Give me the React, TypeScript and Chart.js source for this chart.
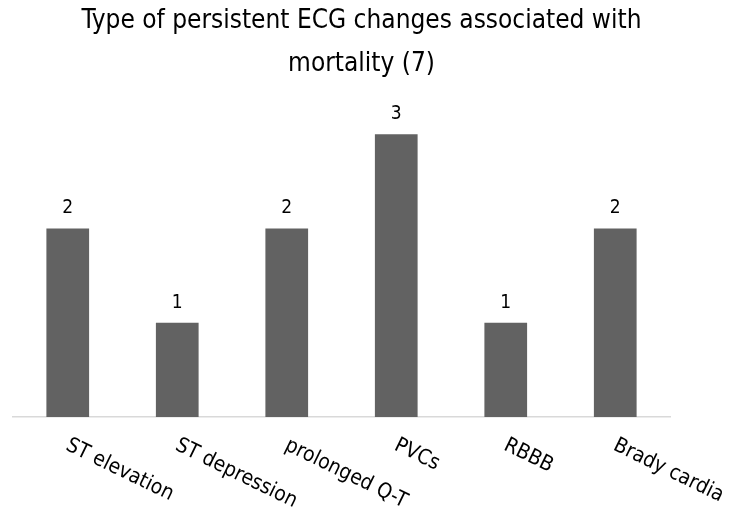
import React, { useEffect, useRef } from "react";
import { Chart, registerables } from "chart.js";

Chart.register(...registerables);

const categories = ["ST elevation", "ST depression", "prolonged Q-T", "PVCs", "RBBB", "Brady cardia"];
const counts = [2, 1, 2, 3, 1, 2];
const titleLines = ["Type of persistent ECG changes associated with", "mortality (7)"];

const FONT = "'DejaVu Sans Condensed', 'DejaVu Sans', sans-serif";

const overlayPlugin = {
  id: "overlay",
  afterDraw(chart: any) {
    const ctx = chart.ctx as CanvasRenderingContext2D;
    const x = chart.scales.x;
    const area = chart.chartArea;
    ctx.save();
    // title
    ctx.fillStyle = "#000";
    ctx.font = `26px ${FONT}`;
    ctx.textAlign = "center";
    ctx.textBaseline = "middle";
    titleLines.forEach((t, i) => ctx.fillText(t, chart.width / 2 - 3, 21 + i * 43));
    // value labels
    ctx.font = `19px ${FONT}`;
    ctx.textBaseline = "alphabetic";
    const meta = chart.getDatasetMeta(0);
    meta.data.forEach((bar: any, i: number) => {
      ctx.fillText(String(counts[i]), bar.x, bar.y - 15);
    });
    // category labels
    ctx.font = `21px ${FONT}`;
    ctx.textAlign = "left";
    ctx.textBaseline = "top";
    categories.forEach((c, i) => {
      const px = x.getPixelForValue(i);
      ctx.save();
      ctx.translate(px + 4, area.bottom + 18);
      ctx.rotate((26 * Math.PI) / 180);
      ctx.fillText(c, 0, 0);
      ctx.restore();
    });
    ctx.restore();
  },
};

export default function App() {
  const ref = useRef<HTMLCanvasElement>(null);
  useEffect(() => {
    document.body.style.margin = "0";
    const chart = new Chart(ref.current!, {
      type: "bar",
      data: {
        labels: categories,
        datasets: [
          {
            data: counts,
            backgroundColor: "#626262",
            borderWidth: 0,
            barPercentage: 0.39,
            categoryPercentage: 1,
          },
        ],
      },
      options: {
        responsive: false,
        animation: false,
        layout: { padding: { left: 13, right: 59, top: 87, bottom: 89 } },
        plugins: { legend: { display: false }, title: { display: false }, tooltip: { enabled: false } },
        scales: {
          x: {
            grid: { display: false },
            border: { display: true, color: "#d9d9d9", width: 1.5 },
            ticks: { display: false },
          },
          y: { display: false, min: 0, max: 3.5 },
        },
      },
      plugins: [overlayPlugin],
    });
    return () => chart.destroy();
  }, []);
  return (
    <div style={{ width: 729, height: 514 }}>
      <canvas ref={ref} width={729} height={514} />
    </div>
  );
}
